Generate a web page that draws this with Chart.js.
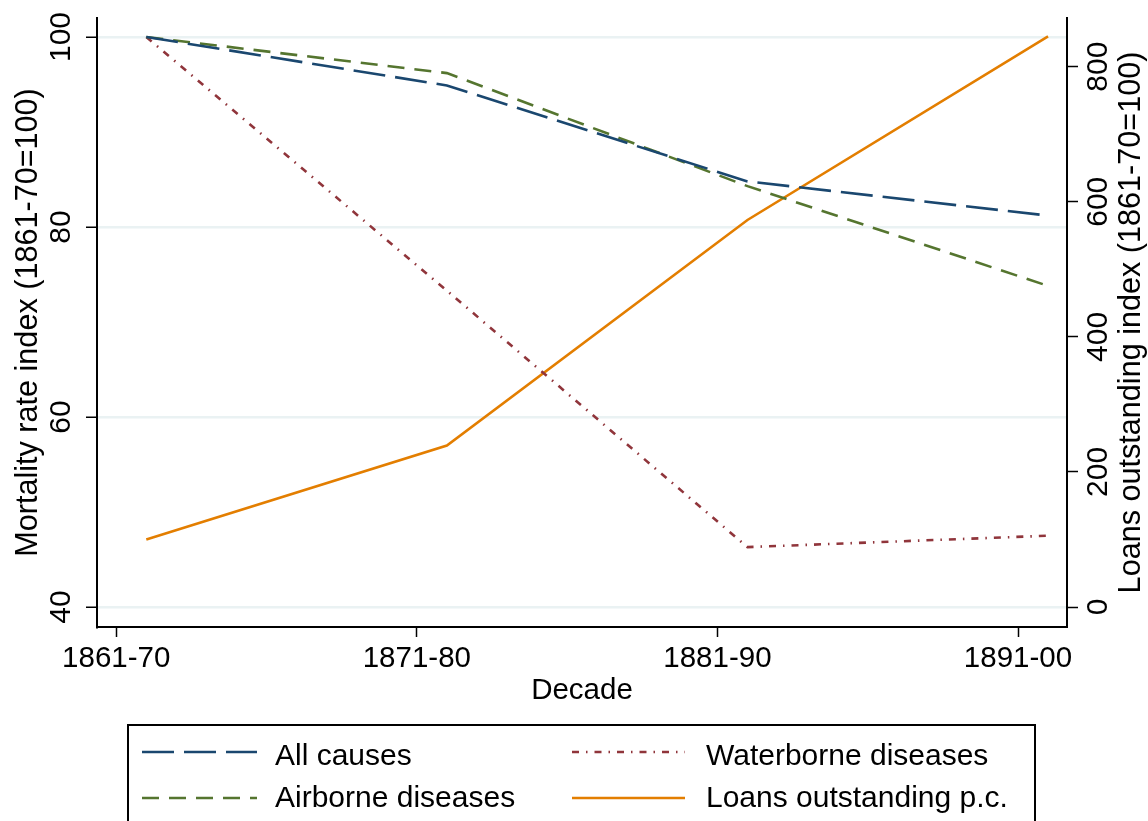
<!DOCTYPE html>
<html>
<head>
<meta charset="utf-8">
<script src="https://cdn.jsdelivr.net/npm/chart.js@4.4.1/dist/chart.umd.min.js"></script>
<style>
  html, body { margin: 0; padding: 0; background: #fff; }
  #wrap { width: 1148px; height: 821px; }
</style>
</head>
<body>
<div id="wrap"><canvas id="chart" width="1148" height="821"></canvas></div>
<script>
// data
const decadeYears = [1862, 1872, 1882, 1892];
const tickYears = [1861, 1871, 1881, 1891];
const tickLabels = ['1861-70', '1871-80', '1881-90', '1891-00'];
const allCauses = [100, 94.9, 84.8, 81.2];
const airborne = [100, 96.2, 84.3, 73.8];
const waterborne = [100, 73.3, 46.3, 47.5];
const loans = [100, 239, 573, 845];
const leftTicks = [40, 60, 80, 100];
const rightTicks = [0, 200, 400, 600, 800];

const NAVY = '#1a476f';
const GREEN = '#55752f';
const MAROON = '#90353b';
const ORANGE = '#e37e00';
const GRID = '#eaf2f3';
const FONT = '"Liberation Sans", Arial, sans-serif';

const toPoints = vals => vals.map((v, i) => ({ x: decadeYears[i], y: v }));

const series = [
  { label: 'All causes', data: toPoints(allCauses), color: NAVY, dash: [32, 10], axis: 'y' },
  { label: 'Airborne diseases', data: toPoints(airborne), color: GREEN, dash: [17, 10], axis: 'y' },
  { label: 'Waterborne diseases', data: toPoints(waterborne), color: MAROON, dash: [7, 7, 1.5, 7], axis: 'y' },
  { label: 'Loans outstanding p.c.', data: toPoints(loans), color: ORANGE, dash: [], axis: 'y1' }
];

// legend layout: sample start/end, text x, line y, text baseline
const legendSlots = [
  { x0: 142, x1: 257, tx: 275, ly: 752, ty: 765 },
  { x0: 142, x1: 257, tx: 275, ly: 798, ty: 807 },
  { x0: 572, x1: 685, tx: 706, ly: 752, ty: 765 },
  { x0: 572, x1: 685, tx: 706, ly: 798, ty: 807 }
];

const textPlugin = {
  id: 'stataText',
  afterDraw(chart) {
    const { ctx, chartArea, scales } = chart;
    ctx.save();
    ctx.fillStyle = '#000';
    ctx.textAlign = 'center';
    ctx.textBaseline = 'alphabetic';

    const vertText = (text, x, y) => {
      ctx.save();
      ctx.translate(x, y);
      ctx.rotate(-Math.PI / 2);
      ctx.fillText(text, 0, 0);
      ctx.restore();
    };

    ctx.font = `30px ${FONT}`;
    scales.y.ticks.forEach(t => vertText(String(t.value), chartArea.left - 27, scales.y.getPixelForValue(t.value)));
    scales.y1.ticks.forEach(t => vertText(String(t.value), chartArea.right + 40, scales.y1.getPixelForValue(t.value)));

    ctx.font = `30.6px ${FONT}`;
    const midY = (chartArea.top + chartArea.bottom) / 2;
    vertText('Mortality rate index (1861-70=100)', 37, midY);
    vertText('Loans outstanding index (1861-70=100)', 1140, midY);
    ctx.font = `29.5px ${FONT}`;
    ctx.fillText('Decade', (chartArea.left + chartArea.right) / 2, 699);

    // legend box
    ctx.strokeStyle = '#000';
    ctx.lineWidth = 2;
    ctx.strokeRect(128, 725, 907, 120);

    ctx.font = `30px ${FONT}`;
    ctx.textAlign = 'left';
    chart.data.datasets.forEach((ds, i) => {
      const s = legendSlots[i];
      ctx.save();
      ctx.strokeStyle = ds.borderColor;
      ctx.lineWidth = 2.5;
      ctx.setLineDash(ds.borderDash || []);
      ctx.beginPath();
      ctx.moveTo(s.x0, s.ly);
      ctx.lineTo(s.x1, s.ly);
      ctx.stroke();
      ctx.restore();
      ctx.fillText(ds.label, s.tx, s.ty);
    });
    ctx.restore();
  }
};

new Chart(document.getElementById('chart'), {
  type: 'line',
  data: {
    datasets: series.map(s => ({
      label: s.label,
      data: s.data,
      yAxisID: s.axis,
      borderColor: s.color,
      backgroundColor: s.color,
      borderDash: s.dash,
      borderWidth: 2.6,
      pointRadius: 0,
      tension: 0,
      fill: false
    }))
  },
  options: {
    responsive: false,
    animation: false,
    layout: { padding: { top: 18, left: 0, right: 0, bottom: 0 } },
    plugins: { legend: { display: false }, tooltip: { enabled: false } },
    scales: {
      x: {
        type: 'linear',
        min: 1860.36,
        max: 1892.63,
        afterBuildTicks: s => { s.ticks = tickYears.map(v => ({ value: v })); },
        afterFit: s => { s.height = 194; },
        ticks: {
          autoSkip: false,
          maxRotation: 0,
          padding: 4,
          color: '#000',
          font: { family: FONT, size: 29.5 },
          callback: v => tickLabels[tickYears.indexOf(v)]
        },
        grid: { drawOnChartArea: false, tickLength: 10, tickColor: '#000', tickWidth: 1.5 },
        border: { color: '#000', width: 2 }
      },
      y: {
        position: 'left',
        min: 37.89,
        max: 102,
        afterBuildTicks: s => { s.ticks = leftTicks.map(v => ({ value: v })); },
        afterFit: s => { s.width = 97; },
        ticks: { display: false },
        grid: { color: GRID, lineWidth: 2.5, tickLength: 11, tickColor: '#000', tickWidth: 1.5 },
        border: { color: '#000', width: 2 }
      },
      y1: {
        position: 'right',
        min: -29.6,
        max: 872.1,
        afterBuildTicks: s => { s.ticks = rightTicks.map(v => ({ value: v })); },
        afterFit: s => { s.width = 81; },
        ticks: { display: false },
        grid: { drawOnChartArea: false, tickLength: 11, tickColor: '#000', tickWidth: 1.5 },
        border: { color: '#000', width: 2 }
      }
    }
  },
  plugins: [textPlugin]
});
</script>
</body>
</html>
